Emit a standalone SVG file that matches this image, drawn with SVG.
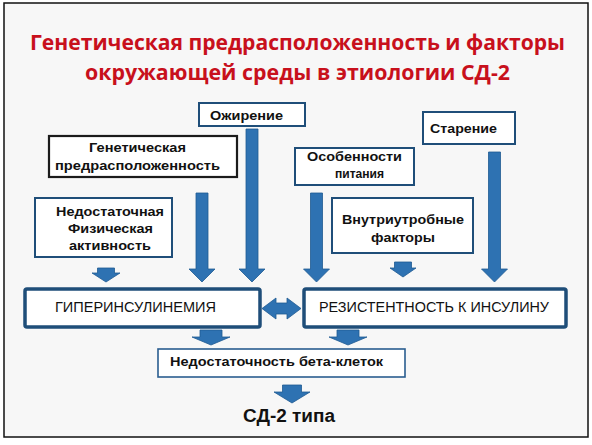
<svg xmlns="http://www.w3.org/2000/svg" width="592" height="445" viewBox="0 0 592 445">
<defs>
<style>
.frame{fill:#f7f7f7;stroke:#111;stroke-width:1.5}
.box{fill:#fff;stroke:#1f4e79;stroke-width:2}
.boxdark{fill:#fff;stroke:#1b1b1b;stroke-width:2.2}
.main{fill:#fff;stroke:#1f4e79;stroke-width:3.5}
.thin{fill:#fff;stroke:#2a5d8f;stroke-width:1.6}
.lbl{font-family:"Liberation Sans",Arial,sans-serif;font-weight:bold;font-size:13.5px;fill:#111}
.reg{font-family:"Liberation Sans",Arial,sans-serif;font-size:14px;fill:#111}
.title{font-family:"Open Sans","Noto Sans",sans-serif;font-weight:bold;font-size:22px;fill:#c8101c}
.arr{fill:#2e72b2;stroke:#1f5a92;stroke-width:0.8}
</style>
</defs>
<rect x="0" y="0" width="592" height="445" fill="#fff"/>
<rect class="frame" x="4" y="3" width="584" height="434"/>
<g id="title">
<text class="title" x="30" y="50" textLength="535" lengthAdjust="spacingAndGlyphs">Генетическая предрасположенность и факторы</text>
<text class="title" x="85" y="80" textLength="425" lengthAdjust="spacingAndGlyphs">окружающей среды в этиологии СД-2</text>
</g>
<g id="node-obesity">
<rect class="box" x="199" y="103" width="106" height="23"/>
<text class="lbl" x="210" y="120" textLength="73" lengthAdjust="spacingAndGlyphs">Ожирение</text>
</g>
<g id="node-genetic">
<rect class="boxdark" x="49" y="136" width="188" height="41"/>
<text class="lbl" x="89" y="152" textLength="97" lengthAdjust="spacingAndGlyphs" style="font-size:12.5px">Генетическая</text>
<text class="lbl" x="55" y="170" textLength="165" lengthAdjust="spacingAndGlyphs" style="font-size:12.5px">предрасположенность</text>
</g>
<g id="node-activity">
<rect class="box" x="35" y="198" width="137" height="59"/>
<text class="lbl" x="56" y="216" textLength="108" lengthAdjust="spacingAndGlyphs">Недостаточная</text>
<text class="lbl" x="68" y="233" textLength="85" lengthAdjust="spacingAndGlyphs">Физическая</text>
<text class="lbl" x="69" y="250" textLength="82" lengthAdjust="spacingAndGlyphs">активность</text>
</g>
<g id="node-nutrition">
<rect class="box" x="295" y="148" width="119" height="37"/>
<text class="lbl" x="307" y="161" textLength="95" lengthAdjust="spacingAndGlyphs">Особенности</text>
<text class="lbl" x="335" y="178" textLength="49" lengthAdjust="spacingAndGlyphs">питания</text>
</g>
<g id="node-aging">
<rect class="box" x="423" y="112" width="92" height="32"/>
<text class="lbl" x="430" y="133" textLength="67" lengthAdjust="spacingAndGlyphs">Старение</text>
</g>
<g id="node-intrauterine">
<rect class="box" x="332" y="198" width="141" height="55"/>
<text class="lbl" x="342" y="224" textLength="122" lengthAdjust="spacingAndGlyphs">Внутриутробные</text>
<text class="lbl" x="371" y="242" textLength="64" lengthAdjust="spacingAndGlyphs">факторы</text>
</g>
<g id="node-hyperinsulinemia">
<rect class="main" x="25" y="289" width="235" height="38" rx="2"/>
<text class="reg" x="55" y="312" textLength="161" lengthAdjust="spacingAndGlyphs">ГИПЕРИНСУЛИНЕМИЯ</text>
</g>
<g id="node-resistance">
<rect class="main" x="304" y="289" width="262" height="38" rx="2"/>
<text class="reg" x="319" y="312" textLength="230" lengthAdjust="spacingAndGlyphs">РЕЗИСТЕНТНОСТЬ К ИНСУЛИНУ</text>
</g>
<g id="node-beta">
<rect class="thin" x="158" y="349" width="247" height="28"/>
<text class="lbl" x="170" y="366" textLength="213" lengthAdjust="spacingAndGlyphs">Недостаточность бета-клеток</text>
</g>
<g id="node-t2d">
<text class="lbl" x="243" y="422" textLength="92" lengthAdjust="spacingAndGlyphs" style="font-size:18px">СД-2 типа</text>
</g>
<g id="connectors">
<path class="arr" d="M196,193 H208 V269 H215 L202,282 L189,269 H196 Z"/>
<path class="arr" d="M246,129 H258 V269 H265 L252,282 L239,269 H246 Z"/>
<path class="arr" d="M310.5,193 H322.5 V269 H329.5 L316.5,282 L303.5,269 H310.5 Z"/>
<path class="arr" d="M488.5,152 H500.5 V269 H507.5 L494.5,282 L481.5,269 H488.5 Z"/>
<path class="arr" d="M97.5,268 H114.5 V273 H120 L106,282 L92,273 H97.5 Z"/>
<path class="arr" d="M394.5,262 H411.5 V268 H416 L403,277 L390,268 H394.5 Z"/>
<path class="arr" d="M200,330 H222 V337 H230 L211,345 L192,337 H200 Z"/>
<path class="arr" d="M337,330 H359 V337 H367 L348,345 L329,337 H337 Z"/>
<path class="arr" d="M282.5,385 H301.5 V392 H310 L292,403 L274,392 H282.5 Z"/>
<path class="arr" d="M262,308.5 L276,298 V303 H287 V298 L301,308.5 L287,319 V314 H276 V319 Z"/>
</g>
</svg>
